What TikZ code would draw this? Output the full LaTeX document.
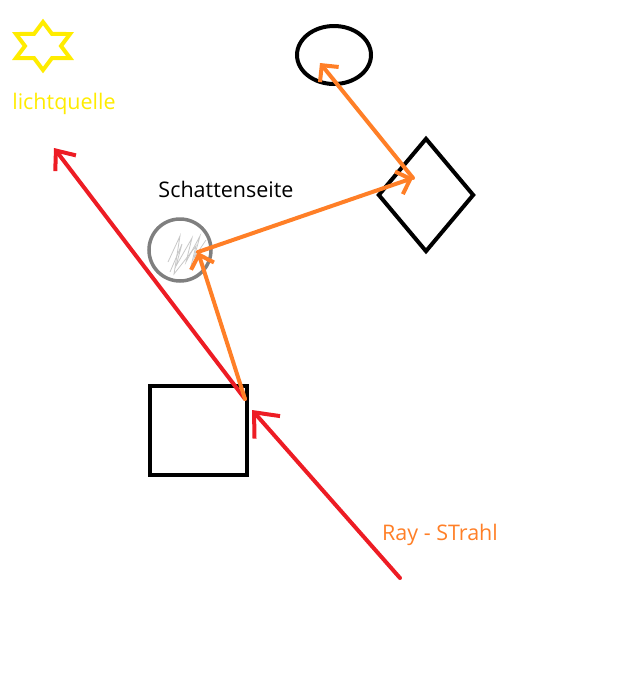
\documentclass[tikz,border=0pt]{standalone}
\usepackage{fontspec}
\setmainfont{Open Sans}
\usetikzlibrary{shapes.geometric,arrows.meta}
\definecolor{paintred}{RGB}{237,28,36}
\definecolor{paintorange}{RGB}{255,127,39}
\definecolor{paintyellow}{RGB}{255,236,0}
\definecolor{paintgray}{RGB}{127,127,127}
\definecolor{scribblegray}{RGB}{200,200,200}
\tikzstyle{body}=[draw=black, line width=4pt, inner sep=0pt]
\tikzstyle{ray}=[draw=paintred, line width=4pt, line cap=round, -{Straight Barb[length=16pt,width=26pt]}]
\tikzstyle{bounce}=[draw=paintorange, line width=4pt, line cap=round, -{Straight Barb[length=12pt,width=24pt]}]
\tikzstyle{paintlabel}=[font=\fontsize{21.5}{24}\selectfont, inner sep=0pt]

\begin{document}
\begin{tikzpicture}[x=1pt, y=-1pt]
\useasboundingbox (0,0) rectangle (623,678);
\node[star, star points=6, star point ratio=1.73, minimum size=48pt, draw=paintyellow, line width=4pt, inner sep=0pt, xscale=1.3, transform shape] (licht) at (43,46) {};
\node[paintlabel, text=paintyellow] (lichttext) at (64,104) {lichtquelle};
\node[body, rectangle, minimum width=97pt, minimum height=89pt] (box) at (198,430) {};
\node[body, draw=paintgray, circle, minimum size=62pt, line width=3.5pt] (shadow) at (180,250) {};
\node[body, ellipse, minimum width=74pt, minimum height=58pt] (oval) at (334,55) {};
\node[body, diamond, minimum width=96pt, minimum height=114pt] (rhomb) at (426,195) {};
\node[paintlabel] (schatten) at (226,189) {Schattenseite};
\node[paintlabel, text=paintorange] (strahl) at (440,535) {Ray - STrahl};
\draw[scribblegray, line width=0.8pt] (170,272) -- (182,244) -- (176,266) -- (192,238) -- (186,262) -- (200,236) -- (194,258) -- (206,240);
\draw[scribblegray, line width=0.8pt] (168,262) -- (180,236) -- (174,274) -- (196,246) -- (190,270);
\coordinate (start) at (400,578);
\coordinate (hit) at (252,410);
\coordinate (kink) at (245,399);
\coordinate (away) at (54,148);
\coordinate (spot) at (198,252);
\coordinate (edge) at (413,178);
\coordinate (peak) at (320,63);
\draw[ray, -{Straight Barb[length=20pt,width=34pt]}] (start) -- (hit);
\draw[ray] (kink) -- (away);
\draw[bounce] (kink) -- (spot);
\draw[bounce] (spot) -- (edge);
\draw[bounce] (edge) -- (peak);
\end{tikzpicture}
\end{document}
